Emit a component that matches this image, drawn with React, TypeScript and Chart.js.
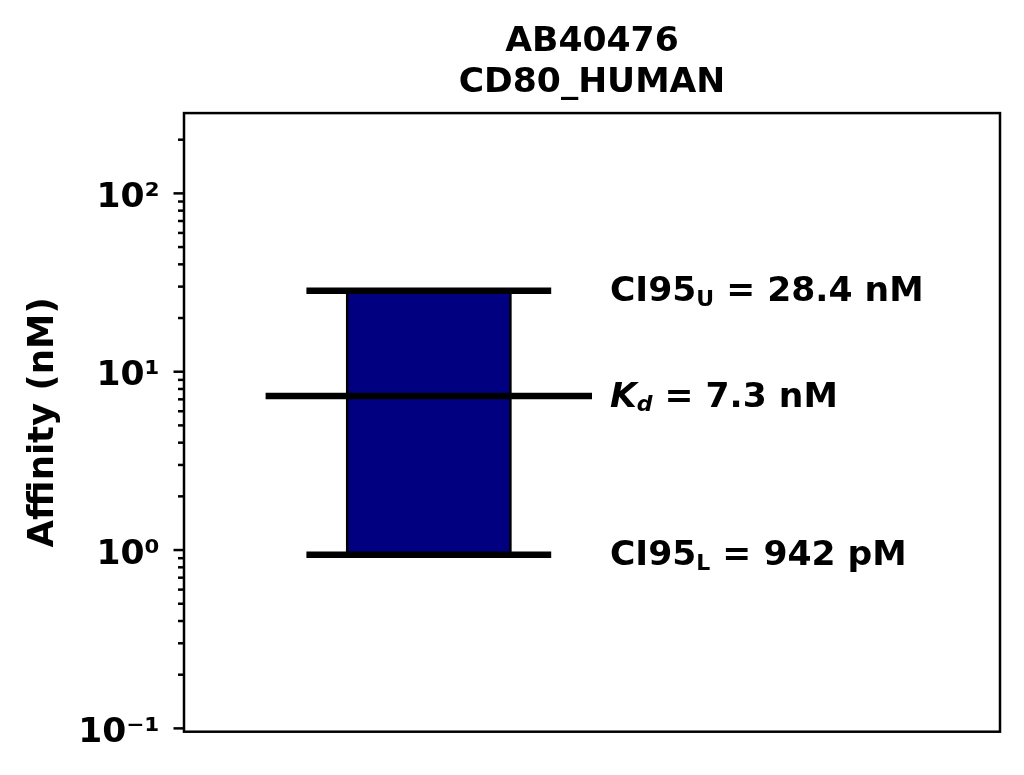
import React, { useEffect, useRef } from "react";
import { Chart, registerables } from "chart.js";

Chart.register(...registerables);

// ---- data ----
const TITLE_LINES = ["AB40476", "CD80_HUMAN"];
const Y_LABEL = "Affinity (nM)";
const KD = [7.3];
const CI_LOWER = [0.942];
const CI_UPPER = [28.4];
const BAR_X = [0.2, 0.4];
const CI_X = [0.15, 0.45];
const KD_X = [0.1, 0.5];
const LABEL_X = [0.522];
const Y_RANGE = [0.0958, 282];
const MAJOR_TICKS = [0.1, 1, 10, 100];
const MAJOR_LABELS = ["10⁻¹", "10⁰", "10¹", "10²"];
const ANNOT_MAIN = ["CI95", "K", "CI95"];
const ANNOT_SUB = ["U", "d", "L"];
const ANNOT_REST = [" = 28.4 nM", " = 7.3 nM", " = 942 pM"];
const ANNOT_VALUES = [CI_UPPER[0], KD[0], CI_LOWER[0]];
const ANNOT_ITALIC = [false, true, false];

const FONT = '"DejaVu Sans", sans-serif';
const FS = 34.6;

const isMajor = (v: number) => {
  const l = Math.log10(v);
  return Math.abs(l - Math.round(l)) < 1e-9;
};

const framePlugin = {
  id: "frameTicks",
  afterDraw(chart: any) {
    const { ctx, chartArea } = chart;
    const { left, right, top, bottom } = chartArea;
    const y = chart.scales.y;
    ctx.save();
    ctx.strokeStyle = "#000";
    ctx.lineWidth = 2.5;
    ctx.lineCap = "butt";
    for (const t of y.ticks) {
      const py = y.getPixelForValue(t.value);
      const len = isMajor(t.value) ? 10.5 : 6;
      ctx.beginPath();
      ctx.moveTo(left - len, py);
      ctx.lineTo(left, py);
      ctx.stroke();
    }
    ctx.strokeRect(left, top, right - left, bottom - top);
    ctx.restore();
  },
};

const annotPlugin = {
  id: "annotations",
  afterDatasetsDraw(chart: any) {
    const { ctx } = chart;
    const xs = chart.scales.x;
    const ys = chart.scales.y;
    ctx.save();
    ctx.fillStyle = "#000";
    ctx.textBaseline = "alphabetic";
    ctx.textAlign = "left";
    for (let i = 0; i < ANNOT_MAIN.length; i++) {
      const it = ANNOT_ITALIC[i] ? "italic " : "";
      let px = xs.getPixelForValue(LABEL_X[0]);
      const py = ys.getPixelForValue(ANNOT_VALUES[i]) + 10.5;
      ctx.font = `${it}bold ${FS}px ${FONT}`;
      ctx.fillText(ANNOT_MAIN[i], px, py);
      px += ctx.measureText(ANNOT_MAIN[i]).width;
      ctx.font = `${it}bold 22px ${FONT}`;
      ctx.fillText(ANNOT_SUB[i], px, py + 4.5);
      px += ctx.measureText(ANNOT_SUB[i]).width;
      ctx.font = `bold ${FS}px ${FONT}`;
      ctx.fillText(ANNOT_REST[i], px, py);
    }
    ctx.restore();
  },
};

export default function App() {
  const ref = useRef<HTMLCanvasElement | null>(null);

  useEffect(() => {
    document.body.style.margin = "0";
    const canvas = ref.current;
    if (!canvas) return;

    const line = (xr: number[], v: number) => ({
      data: [
        { x: xr[0], y: v },
        { x: xr[1], y: v },
      ],
      borderColor: "#000",
      borderWidth: 6.5,
      borderCapStyle: "butt",
      pointRadius: 0,
      fill: false,
      order: 0,
    });

    const chart = new Chart(canvas, {
      type: "line",
      data: {
        datasets: [
          line(CI_X, CI_UPPER[0]),
          line(KD_X, KD[0]),
          line(CI_X, CI_LOWER[0]),
          {
            data: [
              { x: BAR_X[0], y: CI_LOWER[0] },
              { x: BAR_X[0], y: CI_UPPER[0] },
              { x: BAR_X[1], y: CI_UPPER[0] },
              { x: BAR_X[1], y: CI_LOWER[0] },
              { x: BAR_X[0], y: CI_LOWER[0] },
            ],
            borderColor: "#000",
            borderWidth: 2.5,
            backgroundColor: "#000080",
            fill: "shape",
            pointRadius: 0,
            tension: 0,
            order: 10,
          } as any,
        ] as any,
      },
      options: {
        animation: false,
        responsive: false,
        devicePixelRatio: 1,
        layout: { padding: { top: 0, right: 24, bottom: 43.3, left: 0 } },
        plugins: {
          legend: { display: false },
          tooltip: { enabled: false },
          title: {
            display: true,
            text: TITLE_LINES,
            fullSize: false,
            color: "#000",
            font: { family: FONT, size: FS, weight: "bold", lineHeight: 1.176 },
            padding: { top: 21.7, bottom: 10 },
          },
        },
        scales: {
          x: {
            type: "linear",
            min: 0,
            max: 1,
            display: false,
          },
          y: {
            type: "logarithmic",
            min: Y_RANGE[0],
            max: Y_RANGE[1],
            grid: { display: false, drawTicks: false },
            border: { display: false },
            title: {
              display: true,
              text: Y_LABEL,
              color: "#000",
              font: { family: FONT, size: 35.5, weight: "bold", lineHeight: 1.2 },
              padding: { top: 22, bottom: 0 },
            },
            ticks: {
              autoSkip: false,
              color: "#000",
              padding: 24.5,
              labelOffset: 4.5,
              font: { family: FONT, size: 34.5, weight: "bold" },
              callback: (value: any) => {
                const v = Number(value);
                const i = MAJOR_TICKS.findIndex((m) => Math.abs(m - v) / m < 1e-6);
                return i >= 0 ? MAJOR_LABELS[i] : "";
              },
            },
            afterBuildTicks: (scale: any) => {
              const ticks: any[] = [];
              for (let e = -2; e <= 3; e++) {
                for (let m = 1; m <= 9; m++) {
                  const v = m * Math.pow(10, e);
                  if (v >= Y_RANGE[0] && v <= Y_RANGE[1]) ticks.push({ value: v, major: false });
                }
              }
              scale.ticks = ticks;
            },
            afterFit: (scale: any) => {
              scale.width = 184;
              scale.paddingTop = 0;
              scale.paddingBottom = 0;
            },
          },
        },
      } as any,
      plugins: [framePlugin, annotPlugin],
    });

    return () => chart.destroy();
  }, []);

  return (
    <div style={{ width: 1024, height: 775 }}>
      <canvas ref={ref} width={1024} height={775} style={{ display: "block" }} />
    </div>
  );
}
